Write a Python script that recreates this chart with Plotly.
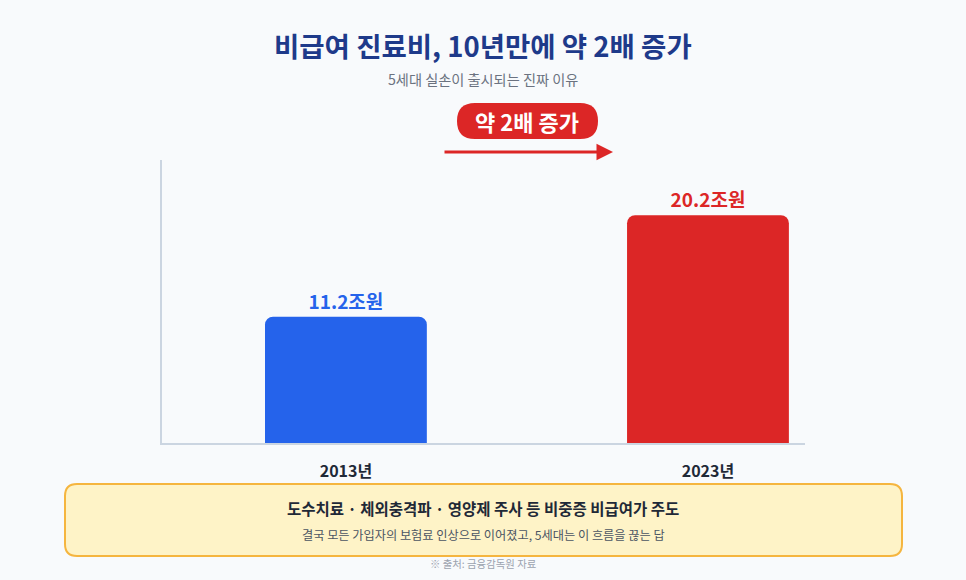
import plotly.graph_objects as go

years = ["2013년", "2023년"]
costs = [11.2, 20.2]
cost_labels = ["11.2조원", "20.2조원"]
bar_colors = ["#2563eb", "#dc2626"]

title = "비급여 진료비, 10년만에 약 2배 증가"
subtitle = "5세대 실손이 출시되는 진짜 이유"
badge = "약 2배 증가"
note_main = "도수치료 · 체외충격파 · 영양제 주사 등 비중증 비급여가 주도"
note_sub = "결국 모든 가입자의 보험료 인상으로 이어졌고, 5세대는 이 흐름을 끊는 답"
source = "※ 출처: 금융감독원 자료"

W, H = 966, 580
L, R, T, B = 162, 805, 160, 443
FONT = "Noto Sans CJK KR"


def px(x):
    return (x - L) / (R - L)


def py(y):
    return (B - y) / (B - T)


def round_rect(x0, y0, x1, y1, r):
    # rounded rectangle path in paper coords, input in pixels
    rx = r / (R - L)
    ry = r / (B - T)
    a, b, c, d = px(x0), py(y1), px(x1), py(y0)
    return (f"M{a+rx},{b} L{c-rx},{b} Q{c},{b} {c},{b+ry} "
            f"L{c},{d-ry} Q{c},{d} {c-rx},{d} L{a+rx},{d} "
            f"Q{a},{d} {a},{d-ry} L{a},{b+ry} Q{a},{b} {a+rx},{b} Z")


fig = go.Figure(go.Bar(
    x=years, y=costs,
    marker=dict(color=bar_colors, line=dict(width=0)),
    width=0.447,
    text=cost_labels, textposition="outside",
    textfont=dict(family=FONT, size=19, color=bar_colors, weight="bold"),
    cliponaxis=False,
    hoverinfo="skip",
))

fig.update_layout(
    width=W, height=H,
    margin=dict(l=L, r=W - R, t=T, b=H - B),
    paper_bgcolor="#f8fafc", plot_bgcolor="#f8fafc",
    barcornerradius=8,
    showlegend=False,
    font=dict(family=FONT),
)
fig.update_xaxes(
    range=[-0.508, 1.268], showgrid=False, ticks="",
    showline=True, linecolor="#cbd5e1", linewidth=2,
    tickfont=dict(family=FONT, size=16, color="#1f2937", weight="bold"),
    ticklabelstandoff=13,
)
fig.update_yaxes(
    range=[0, 25.1], showgrid=False, zeroline=False, showticklabels=False,
    showline=True, linecolor="#cbd5e1", linewidth=2,
)

shapes = [
    dict(type="path", xref="paper", yref="paper",
         path=round_rect(457, 103, 598, 139, 18),
         fillcolor="#dc2626", line=dict(width=0), layer="above"),
    dict(type="path", xref="paper", yref="paper",
         path=round_rect(65, 484, 902, 556, 12),
         fillcolor="#fef3c7", line=dict(color="#f5b53f", width=2), layer="above"),
]
fig.update_layout(shapes=shapes)

ann = [
    dict(text=f"<b>{title}</b>", x=px(483), y=py(45), font=dict(size=27.5, color="#1e3a8a")),
    dict(text=subtitle, x=px(483), y=py(79), font=dict(size=14.2, color="#6b7280")),
    dict(text=f"<b>{badge}</b>", x=px(527), y=py(121), font=dict(size=22, color="#ffffff")),
    dict(text=f"<b>{note_main}</b>", x=px(483), y=py(508), font=dict(size=15.5, color="#1f2937")),
    dict(text=note_sub, x=px(483), y=py(535), font=dict(size=12.2, color="#4b5563")),
    dict(text=source, x=px(483), y=py(563), font=dict(size=10.4, color="#9ca3af")),
]
for a in ann:
    fig.add_annotation(xref="paper", yref="paper", showarrow=False,
                       xanchor="center", yanchor="middle", **a)

fig.add_annotation(
    xref="paper", yref="paper", x=px(613), y=py(152),
    ax=-170, ay=0, text="", showarrow=True,
    arrowhead=2, arrowsize=1.1, arrowwidth=3, arrowcolor="#dc2626",
)

fig.write_html(
    "out.html",
    config={"displayModeBar": False},
    post_script="document.body.style.margin='0';document.body.style.background='#f8fafc';",
)
